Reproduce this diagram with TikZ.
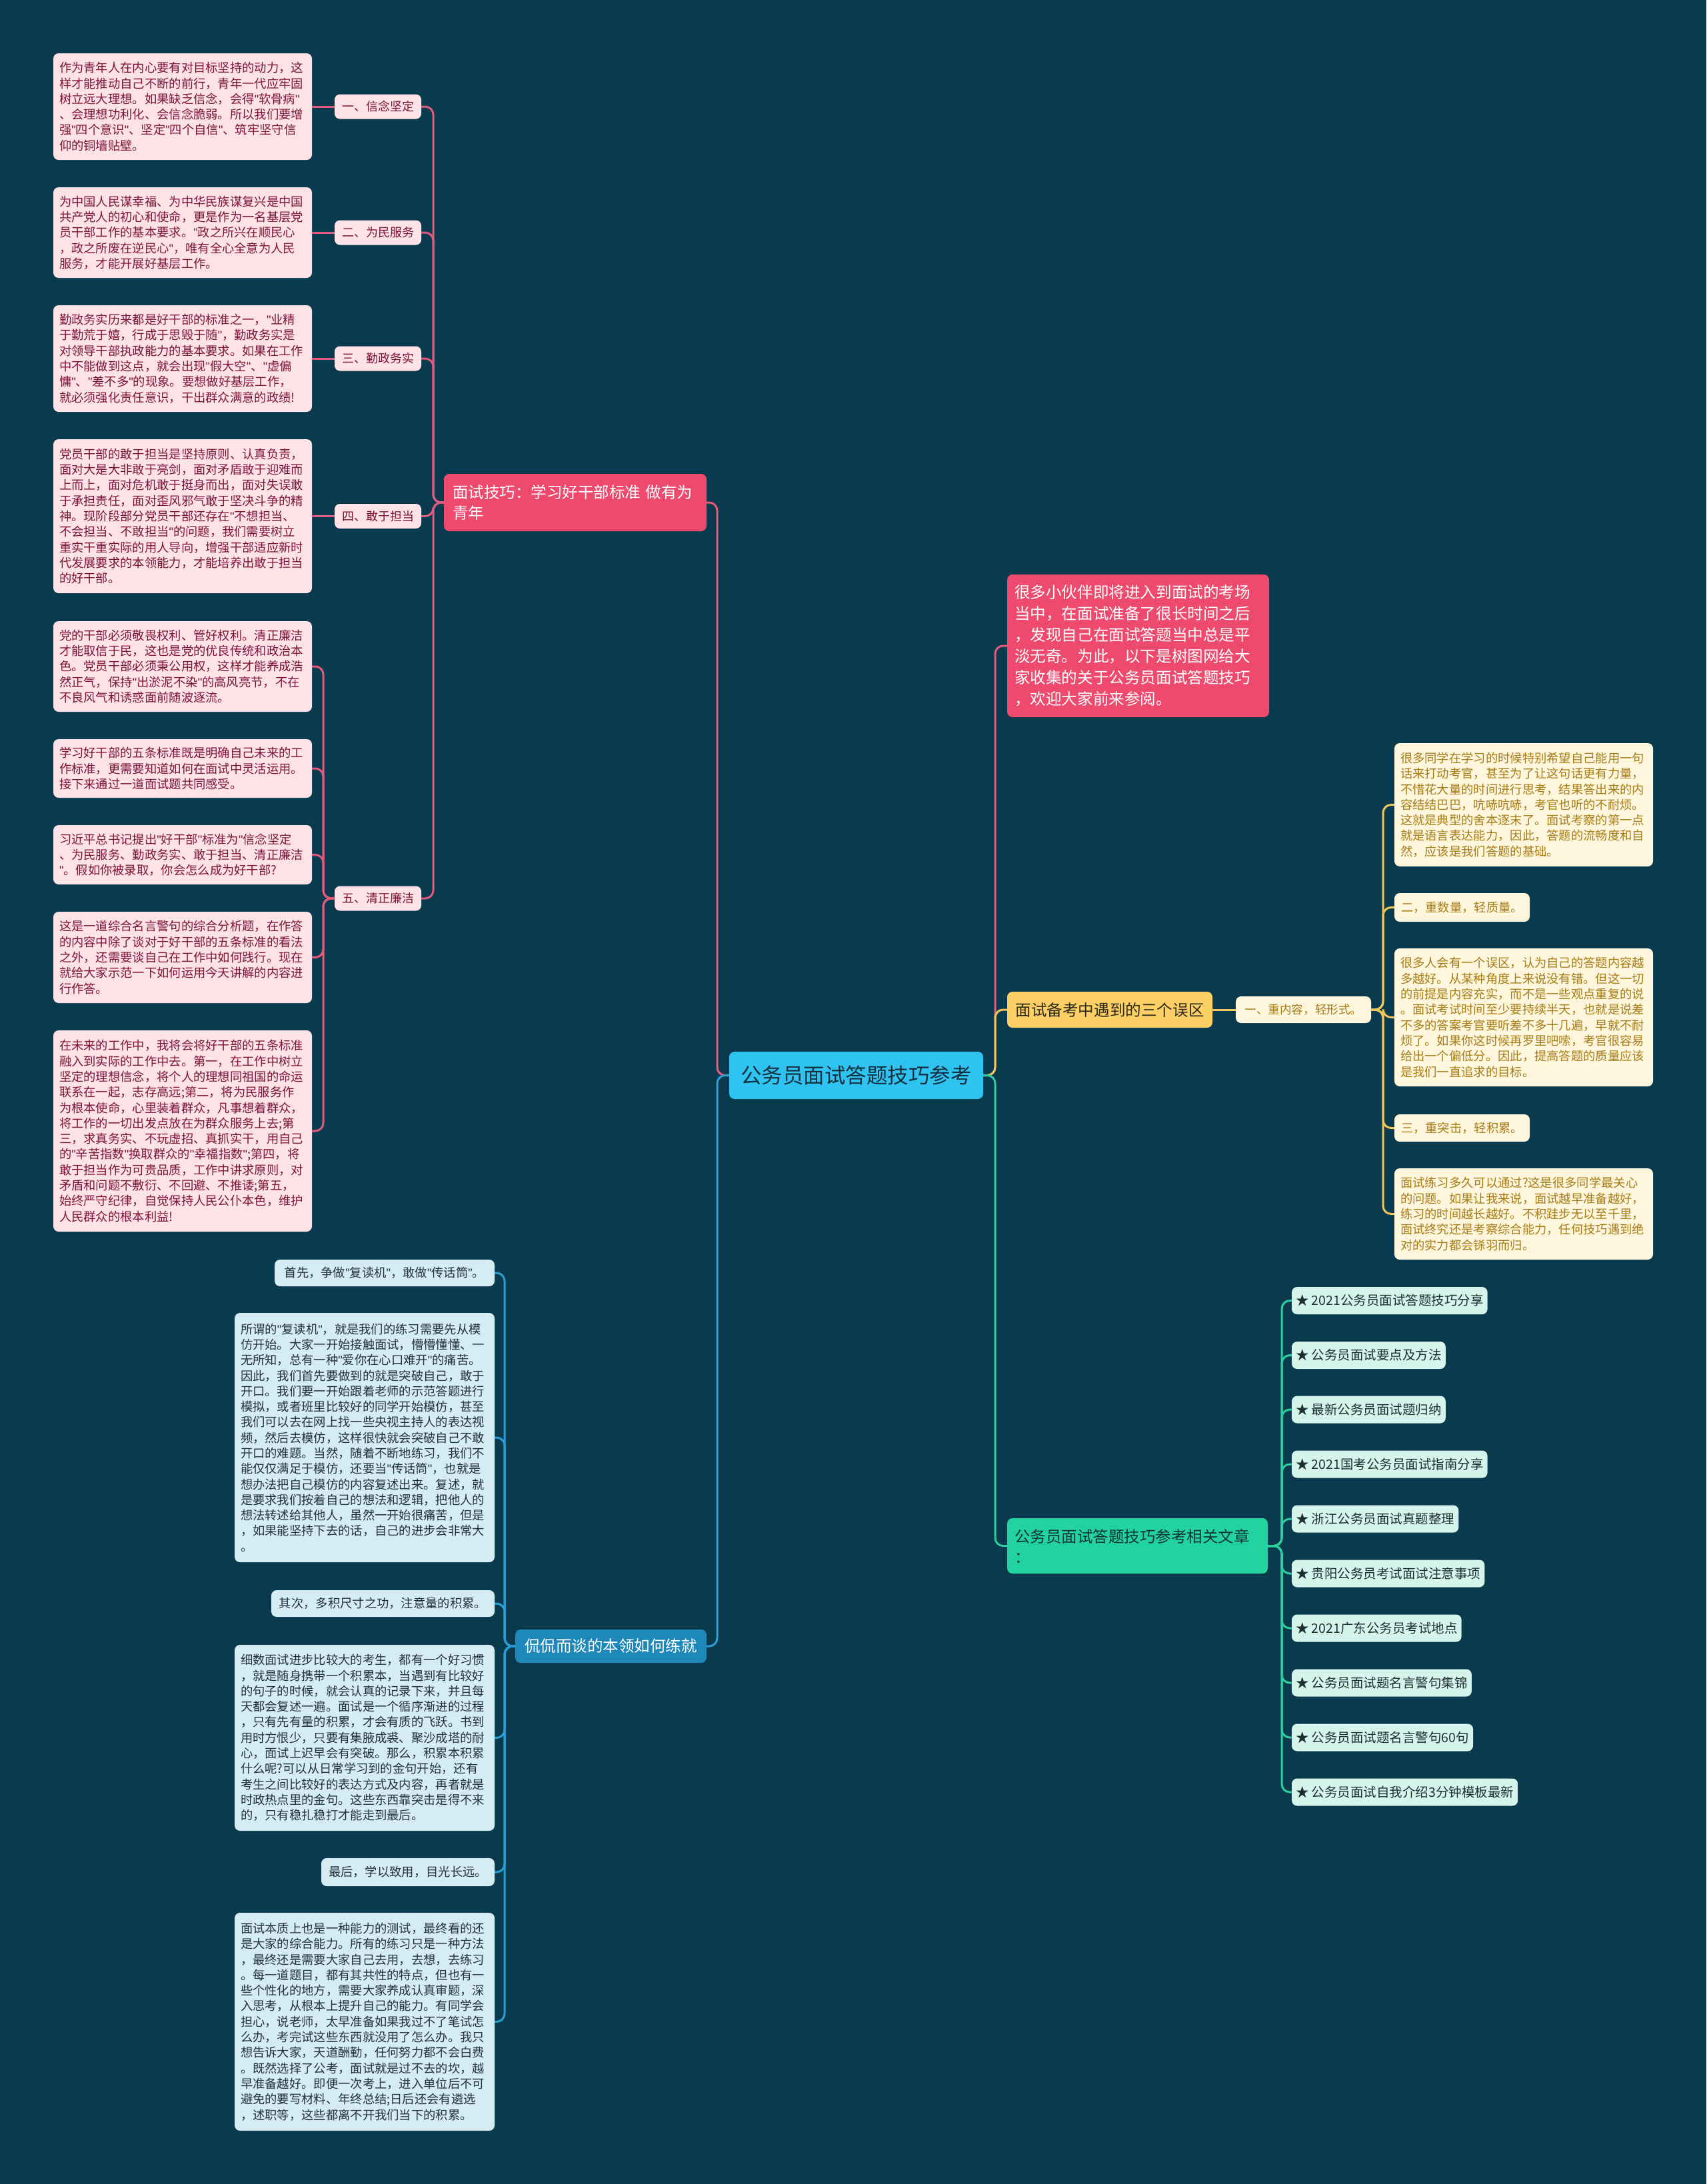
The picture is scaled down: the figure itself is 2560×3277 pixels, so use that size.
\documentclass[tikz,border=0pt]{standalone}
\usepackage{fontspec}
\setmainfont{Noto Sans CJK SC}
\newfontfamily\qfont{Liberation Sans}
\newcommand\q{{\qfont"}}
\definecolor{bgc}{HTML}{0A3A4D}
\definecolor{rootc}{HTML}{2EC3F0}
\definecolor{roott}{HTML}{12303E}
\definecolor{pinkb}{HTML}{EE4A6E}
\definecolor{pinkl}{HTML}{FDE2E8}
\definecolor{pinkt}{HTML}{7D1437}
\definecolor{pinkln}{HTML}{E25A7D}
\definecolor{yelb}{HTML}{FDD065}
\definecolor{yelt}{HTML}{2E2A1A}
\definecolor{creml}{HTML}{FFF6DE}
\definecolor{cremt}{HTML}{A67C14}
\definecolor{yelln}{HTML}{EFC75A}
\definecolor{grnb}{HTML}{22D3A0}
\definecolor{grnt}{HTML}{0F3535}
\definecolor{mintl}{HTML}{D5F5EC}
\definecolor{mintt}{HTML}{1F2F2F}
\definecolor{grnln}{HTML}{2BCE9E}
\definecolor{blub}{HTML}{1E88BA}
\definecolor{blul}{HTML}{D6ECF3}
\definecolor{blut}{HTML}{1F3340}
\definecolor{bluln}{HTML}{2C9ED4}
\tikzset{
  box/.style={rounded corners=8pt, inner ysep=0pt, outer sep=0pt},
  para/.style={box, anchor=north west, align=left, inner xsep=9pt, font=\fontsize{18.3}{23.3}\selectfont},
  pdet/.style={para, fill=pinkl, text=pinkt, text width=370pt},
  ydet/.style={para, fill=creml, text=cremt, text width=370pt},
  bdet/.style={para, fill=blul, text=blut, text width=372pt},
  one/.style={box, anchor=north west, inner xsep=8pt, font=\fontsize{18.3}{23.3}\selectfont},
  plab/.style={box, fill=pinkl, text=pinkt, minimum width=130pt, minimum height=37pt, inner xsep=4pt, font=\fontsize{18}{22}\selectfont},
  bran/.style={box, anchor=north west, align=left, font=\fontsize{23.5}{31}\selectfont},
  gitem/.style={box, anchor=west, fill=mintl, text=mintt, minimum height=41pt, inner xsep=6pt, font=\fontsize{19.5}{24}\selectfont},
  conn/.style={line width=3pt, rounded corners=12pt}
}
\begin{document}
\begin{tikzpicture}[x=1pt,y=-1pt]
\fill[bgc] (0,0) rectangle (2560,3277);
\useasboundingbox (0,0) rectangle (2560,3277);

% root
\node[box, fill=rootc, text=roott, minimum width=381pt, minimum height=71pt, font=\fontsize{31.5}{36}\selectfont] (root) at (1284.5,1613.5) {公务员面试答题技巧参考};

% branch 1 (pink)
\node[bran, fill=pinkb, text=white, text width=368pt, inner xsep=13pt, minimum height=86pt] (br1) at (666,711) {面试技巧：学习好干部标准 做有为\\青年};

\node[plab] (l1) at (567,160) {一、信念坚定};
\node[plab] (l2) at (567,349) {二、为民服务};
\node[plab] (l3) at (567,538) {三、勤政务实};
\node[plab] (l4) at (567,774.5) {四、敢于担当};
\node[plab] (l5) at (567,1348) {五、清正廉洁};

\node[pdet, minimum height=160pt] (p1) at (80,80) {作为青年人在内心要有对目标坚持的动力，这\\样才能推动自己不断的前行，青年一代应牢固\\树立远大理想。如果缺乏信念，会得\q{}软骨病\q{}\\、会理想功利化、会信念脆弱。所以我们要增\\强\q{}四个意识\q{}、坚定\q{}四个自信\q{}、筑牢坚守信\\仰的铜墙贴壁。};
\node[pdet, minimum height=136pt] (p2) at (80,281) {为中国人民谋幸福、为中华民族谋复兴是中国\\共产党人的初心和使命，更是作为一名基层党\\员干部工作的基本要求。\q{}政之所兴在顺民心\\，政之所废在逆民心\q{}，唯有全心全意为人民\\服务，才能开展好基层工作。};
\node[pdet, minimum height=160pt] (p3) at (80,458) {勤政务实历来都是好干部的标准之一，\q{}业精\\于勤荒于嬉，行成于思毁于随\q{}，勤政务实是\\对领导干部执政能力的基本要求。如果在工作\\中不能做到这点，就会出现\q{}假大空\q{}、\q{}虚偏\\慵\q{}、\q{}差不多\q{}的现象。要想做好基层工作，\\就必须强化责任意识，干出群众满意的政绩!};
\node[pdet, minimum height=231pt] (p4) at (80,659) {党员干部的敢于担当是坚持原则、认真负责，\\面对大是大非敢于亮剑，面对矛盾敢于迎难而\\上而上，面对危机敢于挺身而出，面对失误敢\\于承担责任，面对歪风邪气敢于坚决斗争的精\\神。现阶段部分党员干部还存在\q{}不想担当、\\不会担当、不敢担当\q{}的问题，我们需要树立\\重实干重实际的用人导向，增强干部适应新时\\代发展要求的本领能力，才能培养出敢于担当\\的好干部。};
\node[pdet, minimum height=136pt] (p5a) at (80,932) {党的干部必须敬畏权利、管好权利。清正廉洁\\才能取信于民，这也是党的优良传统和政治本\\色。党员干部必须秉公用权，这样才能养成浩\\然正气，保持\q{}出淤泥不染\q{}的高风亮节，不在\\不良风气和诱惑面前随波逐流。};
\node[pdet, minimum height=88pt] (p5b) at (80,1109) {学习好干部的五条标准既是明确自己未来的工\\作标准，更需要知道如何在面试中灵活运用。\\接下来通过一道面试题共同感受。};
\node[pdet, minimum height=89pt] (p5c) at (80,1238) {习近平总书记提出\q{}好干部\q{}标准为\q{}信念坚定\\、为民服务、勤政务实、敢于担当、清正廉洁\\\q{}。假如你被录取，你会怎么成为好干部?};
\node[pdet, minimum height=137pt] (p5d) at (80,1368) {这是一道综合名言警句的综合分析题，在作答\\的内容中除了谈对于好干部的五条标准的看法\\之外，还需要谈自己在工作中如何践行。现在\\就给大家示范一下如何运用今天讲解的内容进\\行作答。};
\node[pdet, minimum height=302pt] (p5e) at (80,1546) {在未来的工作中，我将会将好干部的五条标准\\融入到实际的工作中去。第一，在工作中树立\\坚定的理想信念，将个人的理想同祖国的命运\\联系在一起，志存高远;第二，将为民服务作\\为根本使命，心里装着群众，凡事想着群众，\\将工作的一切出发点放在为群众服务上去;第\\三，求真务实、不玩虚招、真抓实干，用自己\\的\q{}辛苦指数\q{}换取群众的\q{}幸福指数\q{};第四，将\\敢于担当作为可贵品质，工作中讲求原则，对\\矛盾和问题不敷衍、不回避、不推诿;第五，\\始终严守纪律，自觉保持人民公仆本色，维护\\人民群众的根本利益!};

% branch 2 (intro)
\node[bran, fill=pinkb, text=white, text width=371pt, inner xsep=11pt, minimum height=214pt, font=\fontsize{23.6}{32}\selectfont] (intro) at (1511,862) {很多小伙伴即将进入到面试的考场\\当中，在面试准备了很长时间之后\\，发现自己在面试答题当中总是平\\淡无奇。为此，以下是树图网给大\\家收集的关于公务员面试答题技巧\\，欢迎大家前来参阅。};

% branch 3 (yellow)
\node[box, anchor=north west, fill=yelb, text=yelt, minimum width=308pt, minimum height=54pt, font=\fontsize{23.6}{31}\selectfont] (br3) at (1511,1488) {面试备考中遇到的三个误区};
\node[box, anchor=north west, fill=creml, text=cremt, minimum width=203pt, minimum height=40pt, font=\fontsize{17.6}{22}\selectfont] (ysub) at (1854,1495) {一、重内容，轻形式。};
\node[ydet, minimum height=185pt] (y1) at (2092,1115) {很多同学在学习的时候特别希望自己能用一句\\话来打动考官，甚至为了让这句话更有力量，\\不惜花大量的时间进行思考，结果答出来的内\\容结结巴巴，吭哧吭哧，考官也听的不耐烦。\\这就是典型的舍本逐末了。面试考察的第一点\\就是语言表达能力，因此，答题的流畅度和自\\然，应该是我们答题的基础。};
\node[box, anchor=north west, fill=creml, text=cremt, minimum width=203pt, minimum height=43pt, font=\fontsize{18.3}{23}\selectfont] (y2) at (2092,1340) {二，重数量，轻质量。};
\node[ydet, minimum height=207pt] (y3) at (2092,1423) {很多人会有一个误区，认为自己的答题内容越\\多越好。从某种角度上来说没有错。但这一切\\的前提是内容充实，而不是一些观点重复的说\\。面试考试时间至少要持续半天，也就是说差\\不多的答案考官要听差不多十几遍，早就不耐\\烦了。如果你这时候再罗里吧嗦，考官很容易\\给出一个偏低分。因此，提高答题的质量应该\\是我们一直追求的目标。};
\node[box, anchor=north west, fill=creml, text=cremt, minimum width=203pt, minimum height=41pt, font=\fontsize{18.3}{23}\selectfont] (y4) at (2092,1672) {三，重突击，轻积累。};
\node[ydet, minimum height=137pt] (y5) at (2092,1753) {面试练习多久可以通过?这是很多同学最关心\\的问题。如果让我来说，面试越早准备越好，\\练习的时间越长越好。不积跬步无以至千里，\\面试终究还是考察综合能力，任何技巧遇到绝\\对的实力都会铩羽而归。};

% branch 4 (green)
\node[bran, fill=grnb, text=grnt, text width=369pt, inner xsep=11pt, minimum height=83pt] (br4) at (1511,2278) {公务员面试答题技巧参考相关文章\\：};
\node[gitem, minimum width=286pt] (g1) at (1938,1951.5) {★ 2021公务员面试答题技巧分享};
\node[gitem, minimum width=224pt] (g2) at (1938,2033.5) {★ 公务员面试要点及方法};
\node[gitem, minimum width=224pt] (g3) at (1938,2115) {★ 最新公务员面试题归纳};
\node[gitem, minimum width=286pt] (g4) at (1938,2197) {★ 2021国考公务员面试指南分享};
\node[gitem, minimum width=243pt] (g5) at (1938,2279) {★ 浙江公务员面试真题整理};
\node[gitem, minimum width=280pt] (g6) at (1938,2361) {★ 贵阳公务员考试面试注意事项};
\node[gitem, minimum width=249pt] (g7) at (1938,2443) {★ 2021广东公务员考试地点};
\node[gitem, minimum width=261pt] (g8) at (1938,2525) {★ 公务员面试题名言警句集锦};
\node[gitem, minimum width=265pt] (g9) at (1938,2607) {★ 公务员面试题名言警句60句};
\node[gitem, minimum width=328pt] (g10) at (1938,2689) {★ 公务员面试自我介绍3分钟模板最新};

% branch 5 (blue)
\node[box, anchor=north west, fill=blub, text=white, minimum width=287pt, minimum height=50pt, font=\fontsize{23.5}{30}\selectfont] (br5) at (773,2445) {侃侃而谈的本领如何练就};
\node[one, fill=blul, text=blut, minimum width=330pt, minimum height=40pt] (b1) at (412,1890) {首先，争做\q{}复读机\q{}，敢做\q{}传话筒\q{}。};
\node[bdet, minimum height=374pt] (b2) at (352,1970) {所谓的\q{}复读机\q{}，就是我们的练习需要先从模\\仿开始。大家一开始接触面试，懵懵懂懂、一\\无所知，总有一种\q{}爱你在心口难开\q{}的痛苦。\\因此，我们首先要做到的就是突破自己，敢于\\开口。我们要一开始跟着老师的示范答题进行\\模拟，或者班里比较好的同学开始模仿，甚至\\我们可以去在网上找一些央视主持人的表达视\\频，然后去模仿，这样很快就会突破自己不敢\\开口的难题。当然，随着不断地练习，我们不\\能仅仅满足于模仿，还要当\q{}传话筒\q{}，也就是\\想办法把自己模仿的内容复述出来。复述，就\\是要求我们按着自己的想法和逻辑，把他人的\\想法转述给其他人，虽然一开始很痛苦，但是\\，如果能坚持下去的话，自己的进步会非常大\\。};
\node[one, fill=blul, text=blut, minimum width=335pt, minimum height=40pt] (b3) at (407,2386) {其次，多积尺寸之功，注意量的积累。};
\node[bdet, minimum height=279pt] (b4) at (352,2468) {细数面试进步比较大的考生，都有一个好习惯\\，就是随身携带一个积累本，当遇到有比较好\\的句子的时候，就会认真的记录下来，并且每\\天都会复述一遍。面试是一个循序渐进的过程\\，只有先有量的积累，才会有质的飞跃。书到\\用时方恨少，只要有集腋成裘、聚沙成塔的耐\\心，面试上迟早会有突破。那么，积累本积累\\什么呢?可以从日常学习到的金句开始，还有\\考生之间比较好的表达方式及内容，再者就是\\时政热点里的金句。这些东西靠突击是得不来\\的，只有稳扎稳打才能走到最后。};
\node[one, fill=blul, text=blut, minimum width=260pt, minimum height=42pt] (b5) at (482,2788) {最后，学以致用，目光长远。};
\node[bdet, minimum height=327pt] (b6) at (352,2870) {面试本质上也是一种能力的测试，最终看的还\\是大家的综合能力。所有的练习只是一种方法\\，最终还是需要大家自己去用，去想，去练习\\。每一道题目，都有其共性的特点，但也有一\\些个性化的地方，需要大家养成认真审题，深\\入思考，从根本上提升自己的能力。有同学会\\担心，说老师，太早准备如果我过不了笔试怎\\么办，考完试这些东西就没用了怎么办。我只\\想告诉大家，天道酬勤，任何努力都不会白费\\。既然选择了公考，面试就是过不去的坎，越\\早准备越好。即便一次考上，进入单位后不可\\避免的要写材料、年终总结;日后还会有遴选\\，述职等，这些都离不开我们当下的积累。};

% connectors
\draw[conn, pinkln] (root.west) -- ++(-18,0) |- (br1.east);
\draw[conn, bluln] (root.west) -- ++(-18,0) |- (br5.east);
\draw[conn, pinkln] (root.east) -- ++(18,0) |- (intro.west);
\draw[conn, yelln] (root.east) -- ++(18,0) |- (br3.west);
\draw[conn, grnln] (root.east) -- ++(18,0) |- (br4.west);

\foreach \n in {l1,l2,l3,l4,l5} \draw[conn, pinkln] (br1.west) -- ++(-16,0) |- (\n.east);
\draw[conn, pinkln] (l1.west) -- (p1.east);
\draw[conn, pinkln] (l2.west) -- (p2.east);
\draw[conn, pinkln] (l3.west) -- (p3.east);
\draw[conn, pinkln] (l4.west) -- (p4.east);
\foreach \n in {p5a,p5b,p5c,p5d,p5e} \draw[conn, pinkln] (l5.west) -- ++(-17,0) |- (\n.east);

\draw[conn, yelln] (br3.east) -- (ysub.west);
\foreach \n in {y1,y2,y3,y4,y5} \draw[conn, yelln] (ysub.east) -- ++(18,0) |- (\n.west);

\foreach \n in {g1,g2,g3,g4,g5,g6,g7,g8,g9,g10} \draw[conn, grnln] (br4.east) -- ++(21,0) |- (\n.west);

\foreach \n in {b1,b2,b3,b4,b5,b6} \draw[conn, bluln] (br5.west) -- ++(-16,0) |- (\n.east);
\end{tikzpicture}
\end{document}
